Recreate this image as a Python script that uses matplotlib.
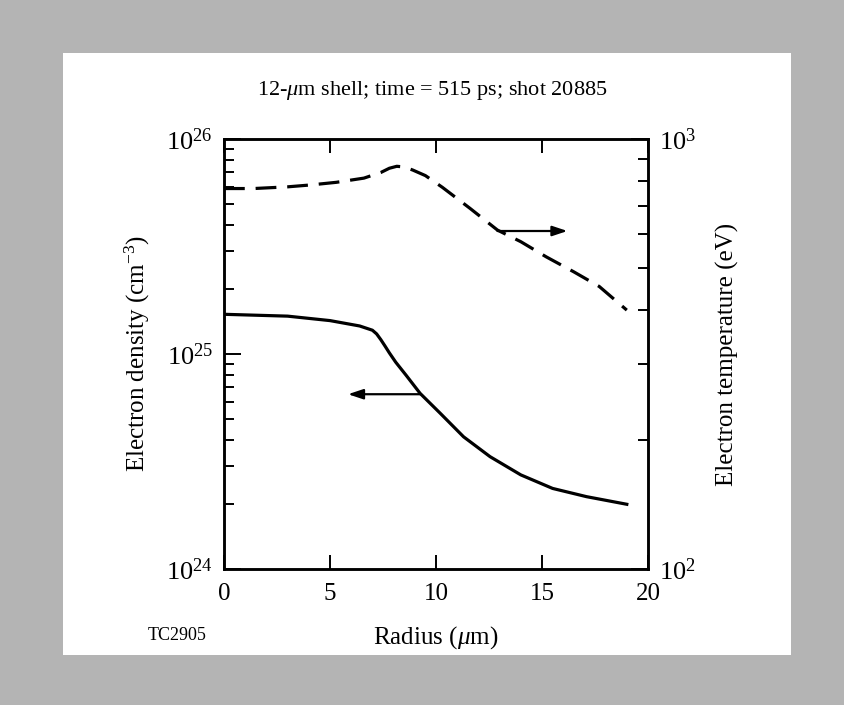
import numpy as np
import matplotlib
matplotlib.use("Agg")
import matplotlib.pyplot as plt
from matplotlib.ticker import LogLocator, LogFormatterMathtext, NullFormatter
from matplotlib.patches import Rectangle

plt.rcParams["font.family"] = ["Liberation Serif", "DejaVu Serif"]
plt.rcParams["mathtext.fontset"] = "custom"
plt.rcParams["mathtext.rm"] = "Liberation Serif"
plt.rcParams["mathtext.it"] = "Liberation Serif:italic"

# electron density (solid curve), left axis
radius_dens = [0, 3.0, 5.0, 6.4, 7.0, 7.2, 7.4, 7.6, 7.8, 8.1, 8.6, 9.25, 10.2, 11.3,
               12.55, 14.0, 15.5, 17.1, 19.0]
density = [1.53e25, 1.50e25, 1.43e25, 1.35e25, 1.29e25, 1.24e25, 1.165e25, 1.087e25,
           1.012e25, 9.16e24, 7.94e24, 6.56e24, 5.3e24, 4.12e24, 3.33e24, 2.74e24,
           2.37e24, 2.17e24, 2.0e24]

# electron temperature (dashed curve), right axis
radius_temp = [0, 1.4, 3.0, 4.1, 5.3, 6.6, 7.4, 7.8, 8.15, 8.5, 8.9, 9.5, 10.3, 11.6, 12.9,
               14.0, 15.2, 16.5, 17.7, 19.0]
temperature = [767, 767, 774, 782, 793, 811, 836, 855, 864, 861, 847, 822, 772, 690, 614,
               577, 532, 491, 454, 400]

# arrows pointing to the axis each curve belongs to
dens_arrow = (9.25, 5.85, 6.5e24)   # x start, x end, y
temp_arrow = (12.9, 16.2, 611)

x_ticks = [0, 5, 10, 15, 20]

fig = plt.figure(figsize=(8.44, 7.05), dpi=100)
fig.patch.set_facecolor("#b4b4b4")
# white inner panel
fig.patches.append(Rectangle((63 / 844, 1 - 655 / 705), (791 - 63) / 844, (655 - 53) / 705,
                             transform=fig.transFigure, facecolor="white", edgecolor="none",
                             zorder=-10))

ax = fig.add_axes([224 / 844, 1 - 569 / 705, 424 / 844, 430 / 705])
ax.set_facecolor("white")
ax.set_yscale("log")
ax.set_xlim(0, 20)
ax.set_ylim(1e24, 1e26)
ax.plot(radius_dens, density, color="black", lw=2.3, solid_joinstyle="round")

ax2 = ax.twinx()
ax2.set_yscale("log")
ax2.set_ylim(1e2, 1e3)
ax2.plot(radius_temp, temperature, color="black", lw=2.3, dashes=(6.5, 3.4))

for a in (ax, ax2):
    for s in a.spines.values():
        s.set_linewidth(1.8)

fs = 18
ax.set_xticks(x_ticks)
ax.set_xticklabels([str(t) for t in x_ticks], fontsize=fs)
ax.tick_params(axis="x", direction="in", length=10, width=1.4, top=True, pad=10)
ax.yaxis.set_major_locator(LogLocator(base=10, numticks=5))
ax.yaxis.set_major_formatter(LogFormatterMathtext())
ax.yaxis.set_minor_locator(LogLocator(base=10, subs=np.arange(2, 10), numticks=10))
ax.yaxis.set_minor_formatter(NullFormatter())
ax.tick_params(axis="y", which="major", direction="in", length=12, width=1.4, labelsize=19, pad=8)
ax.tick_params(axis="y", which="minor", direction="in", length=7, width=1.4)

ax2.yaxis.set_major_locator(LogLocator(base=10, numticks=5))
ax2.yaxis.set_major_formatter(LogFormatterMathtext())
ax2.yaxis.set_minor_locator(LogLocator(base=10, subs=np.arange(2, 10), numticks=10))
ax2.yaxis.set_minor_formatter(NullFormatter())
ax2.tick_params(axis="y", which="major", direction="in", length=12, width=1.4, labelsize=19, pad=8)
ax2.tick_params(axis="y", which="minor", direction="in", length=7, width=1.4)

ax.set_xlabel(r"Radius ($\mu$m)", fontsize=fs, labelpad=14)
ax.set_ylabel(r"Electron density (cm$^{\mathregular{-3}}$)", fontsize=fs, labelpad=10)
ax2.set_ylabel("Electron temperature (eV)", fontsize=fs, labelpad=14)

arrow_style = dict(arrowstyle="-|>,head_length=0.9,head_width=0.3", color="black", lw=1.6,
                   shrinkA=0, shrinkB=0)
ax.annotate("", xy=(dens_arrow[1], dens_arrow[2]), xytext=(dens_arrow[0], dens_arrow[2]),
            arrowprops=arrow_style)
ax2.annotate("", xy=(temp_arrow[1], temp_arrow[2]), xytext=(temp_arrow[0], temp_arrow[2]),
             arrowprops=arrow_style)

fig.text(432 / 844, 1 - 90 / 705, r"12-$\mu$m shell; time = 515 ps; shot 20885",
         ha="center", va="center", fontsize=16)
fig.text(148 / 844, 1 - 635 / 705, "TC2905", ha="left", va="center", fontsize=13)

fig.savefig("out.png", dpi=100, facecolor=fig.get_facecolor())
